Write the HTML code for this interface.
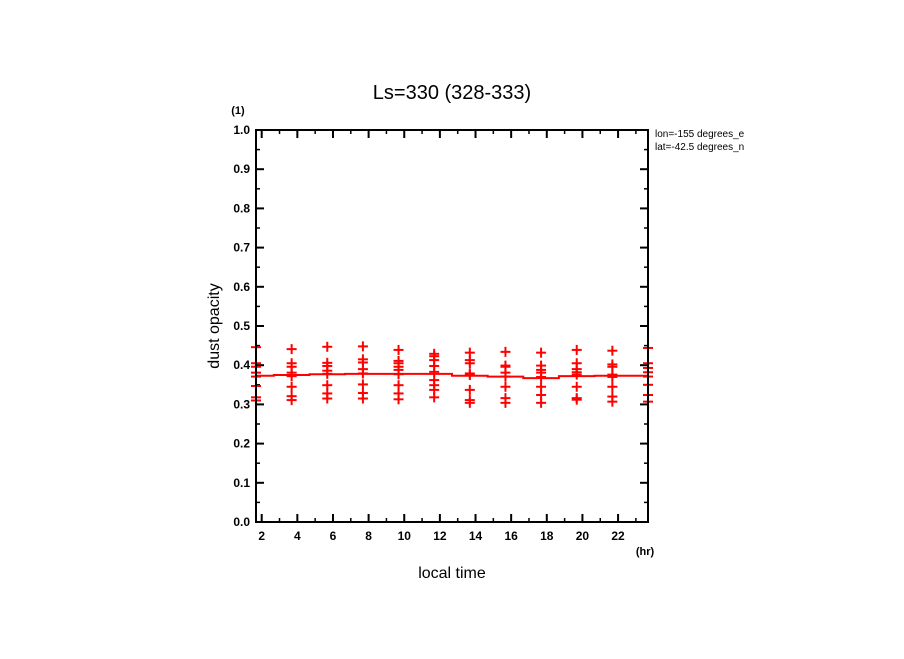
<!DOCTYPE html>
<html><head><meta charset="utf-8"><style>
body{margin:0;background:#fff;}
svg text{font-family:"Liberation Sans",sans-serif;fill:#000;}
</style></head><body>
<svg id="c" width="904" height="654" viewBox="0 0 904 654">
<text x="452" y="99" font-size="20" text-anchor="middle">Ls=330 (328-333)</text>
<text x="238" y="114" font-size="11" font-weight="bold" text-anchor="middle">(1)</text>
<text x="655" y="137" font-size="10">lon=-155 degrees_e</text>
<text x="655" y="150" font-size="10">lat=-42.5 degrees_n</text>
<rect x="780" y="125" width="124" height="30" fill="#fff"/>
<text transform="translate(219,326) rotate(-90)" font-size="16" text-anchor="middle">dust opacity</text>
<text x="452" y="578" font-size="16" text-anchor="middle">local time</text>
<text x="645" y="555" font-size="11" font-weight="bold" text-anchor="middle">(hr)</text>
<g id="axes"></g>
<g id="marks"></g>
<rect x="256" y="130" width="392" height="392" fill="none" stroke="#000" stroke-width="2"/>
</svg>
<script>
const hours=[1.68,3.68,5.68,7.68,9.68,11.68,13.68,15.68,17.68,19.68,21.68,23.68];
const means=[.373,.375,.377,.378,.378,.378,.373,.371,.367,.372,.373,.373];
const samples=[
[.446,.405,.396,.381,.371,.347,.318,.310],
[.441,.405,.396,.381,.372,.345,.321,.311],
[.447,.406,.398,.386,.378,.349,.328,.315],
[.448,.415,.407,.390,.379,.351,.329,.315],
[.439,.411,.405,.396,.388,.377,.349,.328,.313],
[.429,.423,.413,.398,.383,.362,.349,.337,.318],
[.432,.413,.405,.379,.375,.337,.311,.304],
[.434,.399,.396,.381,.371,.345,.316,.304],
[.432,.399,.388,.381,.370,.345,.324,.304],
[.439,.405,.390,.382,.376,.345,.316,.312],
[.437,.402,.396,.376,.370,.345,.320,.307],
[.444,.405,.393,.382,.371,.350,.324,.307]];
const xTicks=[2,4,6,8,10,12,14,16,18,20,22];
const yTicks=[0,0.1,0.2,0.3,0.4,0.5,0.6,0.7,0.8,0.9,1.0];
const X0=256,X1=648,Y0=522,Y1=130,xmin=1.68,xmax=23.68;
const sx=h=>X0+(h-xmin)/(xmax-xmin)*(X1-X0);
const sy=v=>Y0-v*(Y0-Y1);
const NS="http://www.w3.org/2000/svg";
const ax=document.getElementById('axes'),mk=document.getElementById('marks');
function ln(p,x1,y1,x2,y2,c,w){const l=document.createElementNS(NS,'line');l.setAttribute('x1',x1);l.setAttribute('y1',y1);l.setAttribute('x2',x2);l.setAttribute('y2',y2);l.setAttribute('stroke',c);l.setAttribute('stroke-width',w);p.appendChild(l);return l;}
xTicks.forEach(t=>{const x=sx(t);
const l=ln(ax,x,Y0,x,Y0-8,'#000',2);


ln(ax,x,Y1,x,Y1+8,'#000',2);
const m=sx(t+1);if(m<X1){ln(ax,m,Y0,m,Y0-4,'#000',1.5);ln(ax,m,Y1,m,Y1+4,'#000',1.5);}
const tx=document.createElementNS(NS,'text');tx.setAttribute('x',x);tx.setAttribute('y',Y0+18);tx.setAttribute('font-size','12');tx.setAttribute('font-weight','bold');tx.setAttribute('text-anchor','middle');tx.textContent=t;


ax.appendChild(tx);});
yTicks.forEach(t=>{const y=sy(t);
const l=ln(ax,X0,y,X0+8,y,'#000',2);


ln(ax,X1,y,X1-8,y,'#000',2);
if(t<1){const m=sy(t+0.05);ln(ax,X0,m,X0+4,m,'#000',1.5);ln(ax,X1,m,X1-4,m,'#000',1.5);}
const tx=document.createElementNS(NS,'text');tx.setAttribute('x',X0-6);tx.setAttribute('y',y+4);tx.setAttribute('font-size','12');tx.setAttribute('font-weight','bold');tx.setAttribute('text-anchor','end');tx.textContent=t.toFixed(1);


ax.appendChild(tx);});
let d='';
hours.forEach((h,i)=>{const a=Math.max(X0,sx(h-1)),b=Math.min(X1,sx(h+1)),y=sy(means[i]);d+=(i?'L':'M')+a+' '+y+'L'+b+' '+y;});
const p=document.createElementNS(NS,'path');p.setAttribute('d',d);p.setAttribute('fill','none');p.setAttribute('stroke','#f00');p.setAttribute('stroke-width','2');


mk.appendChild(p);
hours.forEach((h,i)=>{samples[i].forEach(v=>{const x=sx(h),y=sy(v);
const g=document.createElementNS(NS,'g');


ln(g,x-5,y,x+5,y,'#f00',2);ln(g,x,y-5,x,y+5,'#f00',2);mk.appendChild(g);});});
</script>
</body></html>
